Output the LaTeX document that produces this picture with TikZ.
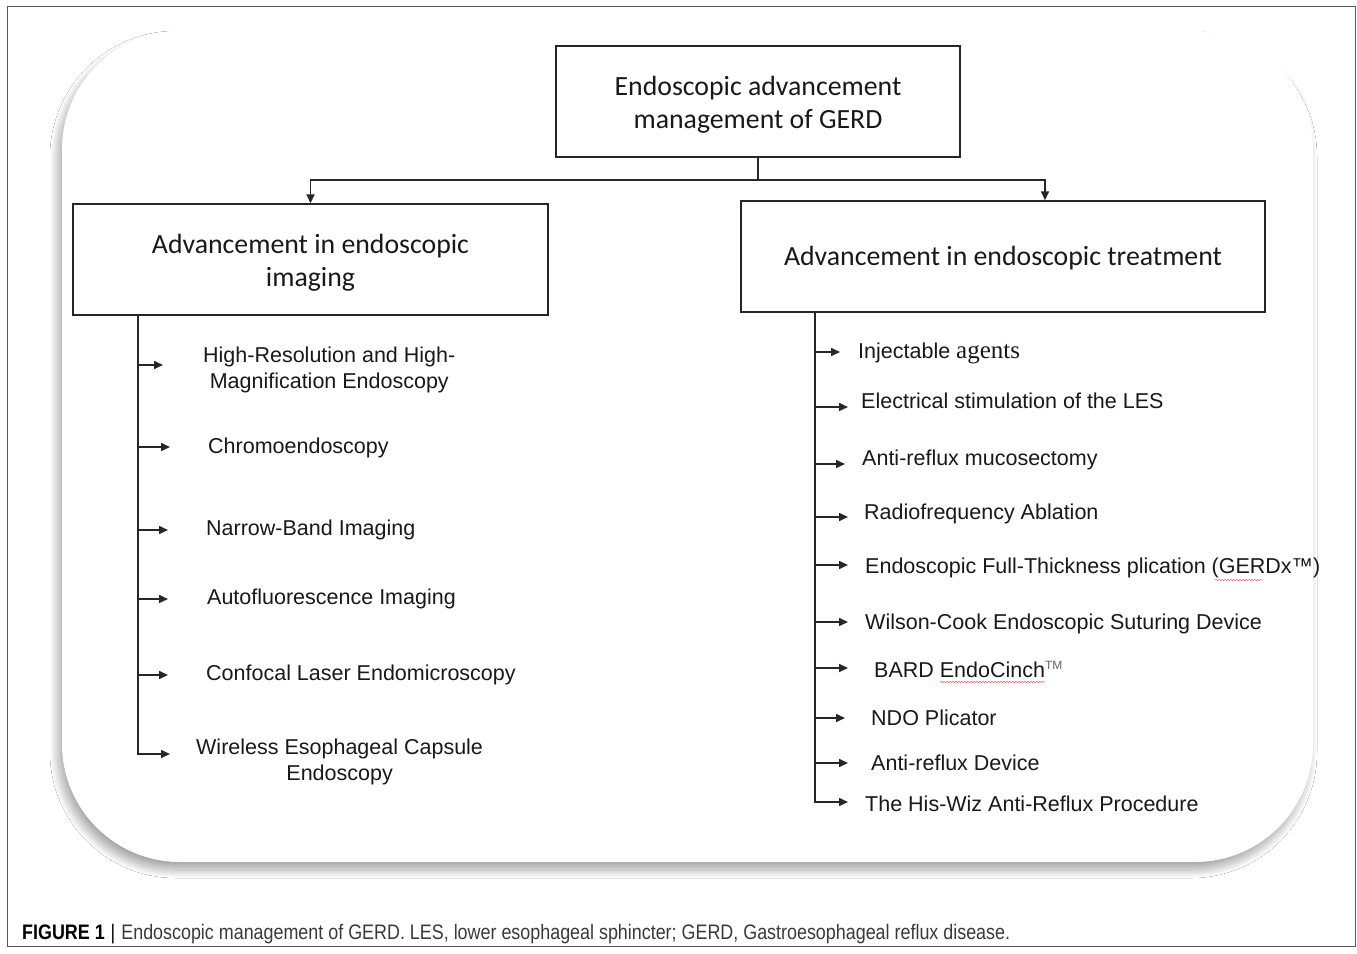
\documentclass[tikz,border=0pt]{standalone}
\usepackage{fontspec}
\usepackage{graphicx}
\setmainfont{Liberation Sans}
\newfontfamily\calib{Carlito}
\newfontfamily\timesf{Liberation Serif}
\usetikzlibrary{arrows.meta,shadows,shadows.blur,decorations.pathmorphing}
\definecolor{capgray}{HTML}{3A3A3A}
\begin{document}
\begin{tikzpicture}[x=1pt,y=-1pt,
  outerframe/.style={draw=black!65,line width=0.9pt},
  bigbox/.style={draw=black!85,line width=1.4pt,inner sep=0pt},
  boxtext/.style={font=\calib\fontsize{27.8}{33}\selectfont,align=center,inner sep=0pt,text=black!90},
  item/.style={anchor=west,inner sep=0pt,font=\fontsize{21.5}{26}\selectfont,align=center,text=black!90},
  conn/.style={line width=1.6pt,draw=black!85},
  arr/.style={conn,-{Triangle[length=9pt,width=8pt]}},
  squig/.style={draw=red!70,line width=0.5pt,decorate,decoration={snake,amplitude=0.6pt,segment length=3pt}}
]
\useasboundingbox (0,0) rectangle (1357,953);
\fill[white] (0,0) rectangle (1357,953);
\draw[outerframe] (7,6) rectangle (1355,946);

% rounded shadowed panel
\path[fill=white,rounded corners=118pt,
  blur shadow={shadow xshift=-4pt,shadow yshift=-8pt,shadow blur radius=8pt,shadow opacity=35,shadow blur steps=24}]
  (62,31) rectangle (1313,862);

% boxes
\node[bigbox,minimum width=404pt,minimum height=111pt] (top) at (758,101.5) {};
\node[boxtext] (toptext) at ([yshift=-3pt]top.center) {Endoscopic advancement\\management of GERD};
\node[bigbox,minimum width=475pt,minimum height=111pt] (lbox) at (310.5,259.5) {};
\node[boxtext] (ltext) at ([yshift=-3pt]lbox.center) {Advancement in endoscopic\\imaging};
\node[bigbox,minimum width=524pt,minimum height=111pt] (rbox) at (1003,256.5) {};
\node[boxtext] (rtext) at ([yshift=-2pt]rbox.center) {Advancement in endoscopic treatment};

\coordinate (j) at (758,180);
\draw[conn] (top.south) -- (j);
\draw[arr] (j) -| (lbox.north);
\draw[arr] (j) -| ([xshift=42pt]rbox.north);

% left items
\coordinate (lsx) at (138,0);
\node[item] (L1) at (203,370) {High-Resolution and High-\\Magnification Endoscopy};
\node[item] (L2) at (208,448) {Chromoendoscopy};
\node[item] (L3) at (206,530) {Narrow-Band Imaging};
\node[item] (L4) at (207,599) {Autofluorescence Imaging};
\node[item] (L5) at (206,675) {Confocal Laser Endomicroscopy};
\node[item] (L6) at (196,762) {Wireless Esophageal Capsule\\Endoscopy};

\draw[arr] (lbox.south -| lsx) -- ([yshift=8pt]lsx |- L6.west) -- ([xshift=-26pt,yshift=8pt]L6.west);
\draw[arr] ([yshift=5pt]lsx |- L1.west) -- ([xshift=-40pt,yshift=5pt]L1.west);
\draw[arr] ([yshift=1pt]lsx |- L2.west) -- ([xshift=-38pt,yshift=1pt]L2.west);
\draw[arr] (lsx |- L3.west) -- ([xshift=-38pt]L3.west);
\draw[arr] (lsx |- L4.west) -- ([xshift=-39pt]L4.west);
\draw[arr] (lsx |- L5.west) -- ([xshift=-38pt]L5.west);

% right items
\coordinate (rsx) at (815,0);
\node[item] (R1) at (858,353) {Injectable {\timesf\fontsize{25}{26}\selectfont agents}};
\node[item] (R2) at (861,401) {Electrical stimulation of the LES};
\node[item] (R3) at (862,460) {Anti-reflux mucosectomy};
\node[item] (R4) at (864,514) {Radiofrequency Ablation};
\node[item] (R5) at (865,568) {Endoscopic Full-Thickness plication (GERDx™)};
\node[item] (R6) at (865,624) {Wilson-Cook Endoscopic Suturing Device};
\node[item] (R7) at (874,669) {BARD EndoCinch\raisebox{8pt}{\fontsize{12}{12}\selectfont\color{black!60}TM}};
\node[item] (R8) at (871,718) {NDO Plicator};
\node[item] (R9) at (871,763) {Anti-reflux Device};
\node[item] (R10) at (865,804) {The His-Wiz Anti-Reflux Procedure};

\draw[arr] (rbox.south -| rsx) -- ([yshift=2pt]rsx |- R10.west) -- ([xshift=-17pt,yshift=2pt]R10.west);
\draw[arr] ([yshift=1pt]rsx |- R1.west) -- ([xshift=-18pt,yshift=1pt]R1.west);
\draw[arr] ([yshift=-6pt]rsx |- R2.west) -- ([xshift=-13pt,yshift=-6pt]R2.west);
\draw[arr] ([yshift=-4pt]rsx |- R3.west) -- ([xshift=-17pt,yshift=-4pt]R3.west);
\draw[arr] ([yshift=-3pt]rsx |- R4.west) -- ([xshift=-16pt,yshift=-3pt]R4.west);
\draw[arr] ([yshift=3pt]rsx |- R5.west) -- ([xshift=-17pt,yshift=3pt]R5.west);
\draw[arr] ([yshift=2pt]rsx |- R6.west) -- ([xshift=-17pt,yshift=2pt]R6.west);
\draw[arr] ([yshift=1pt]rsx |- R7.west) -- ([xshift=-26pt,yshift=1pt]R7.west);
\draw[arr] (rsx |- R8.west) -- ([xshift=-26pt]R8.west);
\draw[arr] (rsx |- R9.west) -- ([xshift=-23pt]R9.west);

% spell-check squiggles
\draw[squig] (1215,580) -- (1262,580);
\draw[squig] (940,682) -- (1045,682);

% caption
\node[anchor=west,inner sep=0pt,font=\fontsize{21}{22}\selectfont,text=capgray] (cap) at (22,934)
  {\resizebox{988pt}{\height}{{\color{black}\textbf{FIGURE 1}\,\,|}\,\,Endoscopic management of GERD. LES, lower esophageal sphincter; GERD, Gastroesophageal reflux disease.}};
\end{tikzpicture}
\end{document}
